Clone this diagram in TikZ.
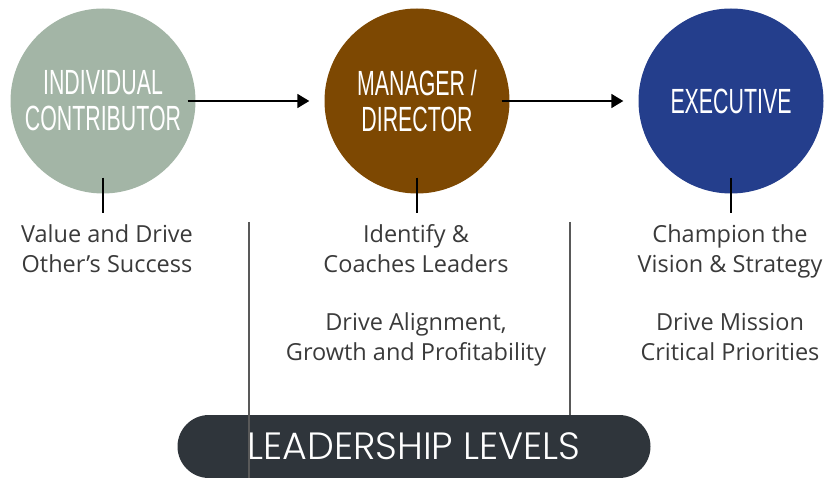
\documentclass[tikz,border=0pt]{standalone}
\usepackage{fontspec}
\usetikzlibrary{arrows.meta}
\setmainfont{Open Sans}
\newfontfamily\headfont[FakeStretch=0.61]{Liberation Sans}
\newfontfamily\pillfont{Poppins}[UprightFont=* Light]
\definecolor{sage}{RGB}{163,181,166}
\definecolor{brownish}{RGB}{125,72,2}
\definecolor{navy}{RGB}{36,62,140}
\definecolor{pillgray}{RGB}{47,53,59}
\definecolor{bodygray}{RGB}{58,58,58}

\begin{document}
\begin{tikzpicture}
[
  x=1pt, y=-1pt,
  >={Triangle[length=12pt,width=14pt]},
  level/.style = {circle, minimum size=185pt, inner sep=0pt, text=white,
                  align=center, font=\headfont\fontsize{35}{36}\selectfont},
  duty/.style = {anchor=north, align=center, text=bodygray,
                 font=\fontsize{23.5}{30}\selectfont},
  flow/.style = {->, line width=1.8pt, shorten <=-8pt, shorten >=15pt},
  stub/.style = {line width=1.8pt, shorten <=-16pt, shorten >=8pt},
  sep/.style = {line width=1.3pt, draw=black!65},
  pill/.style = {fill=pillgray, rounded corners=31.5pt, minimum width=473pt,
                 minimum height=63pt, text=white,
                 font=\pillfont\fontsize{38}{40}\selectfont},
]
\useasboundingbox (0,0) rectangle (825,478);

\node (IC) at (103,101) [level, fill=sage] {INDIVIDUAL\\CONTRIBUTOR};
\node (MD) at (417,101) [level, fill=brownish] {MANAGER /\\DIRECTOR};
\node (EX) at (731,101) [level, fill=navy] {EXECUTIVE};

\node (ICduty) at (107,221) [duty] {Value and Drive\\Other’s Success};
\node (MDduty) at (416,221) [duty] {Identify \&\\Coaches Leaders\\[28pt]Drive Alignment,\\Growth and Profitability};
\node (EXduty) at (730,221) [duty] {Champion the\\Vision \& Strategy\\[28pt]Drive Mission\\Critical Priorities};

\node (lead) at (414,446.5) [pill] {LEADERSHIP LEVELS};

\coordinate (sepA) at (249,222);
\coordinate (sepB) at (570,222);

\draw[flow] (IC) -- (MD);
\draw[flow] (MD) -- (EX);
\draw[stub] (IC.south) -- (IC.south |- ICduty.north);
\draw[stub] (MD.south) -- (MD.south |- MDduty.north);
\draw[stub] (EX.south) -- (EX.south |- EXduty.north);
\draw[sep] (sepA) -- (sepA |- 0,478);
\draw[sep] (sepB) -- (sepB |- lead.north);

\end{tikzpicture}
\end{document}
